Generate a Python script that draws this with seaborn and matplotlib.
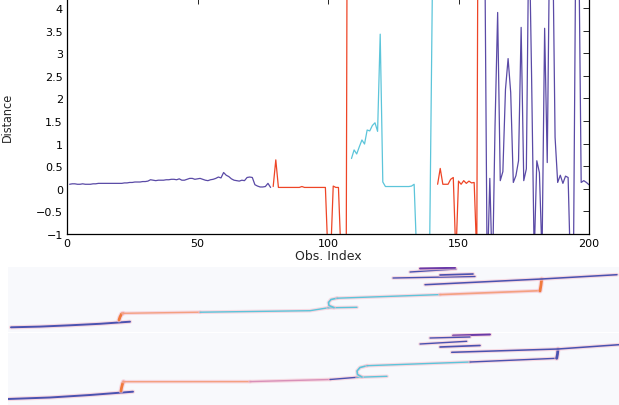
import numpy as np
import matplotlib
matplotlib.use("Agg")
import matplotlib.pyplot as plt
import seaborn as sns

# Distance per observation, one list per cluster segment

purple1_obs = list(range(1, 79))
purple1_dist = [0.10, 0.11, 0.11, 0.10, 0.10, 0.11, 0.10, 0.10, 0.10, 0.11,
                0.11, 0.12, 0.12, 0.12, 0.12, 0.12, 0.12, 0.12, 0.12, 0.12,
                0.12, 0.13, 0.13, 0.14, 0.14, 0.15, 0.15, 0.15, 0.16, 0.16,
                0.17, 0.20, 0.19, 0.18, 0.19, 0.19, 0.19, 0.20, 0.20, 0.21,
                0.21, 0.20, 0.22, 0.19, 0.19, 0.21, 0.23, 0.23, 0.21, 0.22,
                0.23, 0.21, 0.19, 0.18, 0.20, 0.21, 0.23, 0.26, 0.24, 0.36,
                0.30, 0.27, 0.22, 0.19, 0.18, 0.17, 0.19, 0.18, 0.25, 0.26,
                0.25, 0.09, 0.06, 0.04, 0.04, 0.05, 0.12, 0.03]

red1_obs = list(range(79, 109))
red1_dist = [0.05, 0.64, 0.03, 0.03, 0.03, 0.03, 0.03, 0.03, 0.03, 0.03,
             0.03, 0.05, 0.03, 0.03, 0.03, 0.03, 0.03, 0.03, 0.03, 0.03,
             0.03, -1.5, -1.5, 0.06, 0.03, 0.03, -1.5, -1.5, -1.2, 20.0]

cyan_obs = list(range(109, 141))
cyan_dist = [0.67, 0.86, 0.77, 0.93, 1.08, 0.99, 1.30, 1.28, 1.40, 1.46,
             1.27, 3.42, 0.15, 0.05, 0.05, 0.05, 0.05, 0.05, 0.05, 0.05,
             0.05, 0.05, 0.05, 0.06, 0.10, -1.5, -1.5, -1.5, -1.5, -1.5,
             -1.0, 4.5]

red2_obs = list(range(142, 159))
red2_dist = [0.10, 0.45, 0.10, 0.10, 0.10, 0.21, 0.25, -1.5, 0.17, 0.10,
             0.18, 0.12, 0.17, 0.13, 0.14, -1.5, 15.0]

purple2_obs = list(range(160, 201))
purple2_dist = [6.0, -2.0, 0.23, -2.0, 1.4, 3.9, 0.18, 0.38, 2.2, 2.88,
                2.13, 0.14, 0.29, 0.62, 3.57, 0.18, 0.44, 6.0, 2.5, -1.5,
                0.62, 0.36, -1.5, 3.55, 0.58, 6.0, 6.0, 1.14, 0.14, 0.30,
                0.12, 0.28, 0.25, -2.0, -2.0, 6.0, 6.0, 0.14, 0.18, 0.14,
                0.09]

y_ticks = [-1, -0.5, 0, 0.5, 1, 1.5, 2, 2.5, 3, 3.5, 4]
x_ticks = [0, 50, 100, 150, 200]

# Trajectory snapshots below the chart (image pixel coordinates)

# upper snapshot
a_start_x, a_start_y = [11, 40, 70, 100, 130], [328.3, 327.6, 326.3, 324.8, 322.7]
a_hook1_x, a_hook1_y = [119, 120, 121.5, 123], [321, 318, 315, 314.3]
a_cross1_x, a_cross1_y = [123, 200], [314.3, 313.2]
a_cross1b_x, a_cross1b_y = [200, 310, 328], [313.2, 311.7, 308.8]
a_tail_x, a_tail_y = [328, 357], [308.8, 308.3]
a_hook2_x, a_hook2_y = [334, 329, 328.5, 331, 337], [308.6, 306.5, 303.5, 300.5, 299.2]
a_cross2_x, a_cross2_y = [337, 440], [299.2, 295.6]
a_cross2b_x, a_cross2b_y = [440, 540], [295.6, 291.7]
a_vert_x, a_vert_y = [540, 541, 541.7], [292, 286, 280]
a_end_x, a_end_y = [425, 541.7, 617], [285.7, 280, 275.7]
a_cl1_x, a_cl1_y = [393, 475], [279, 277.5]
a_cl2_x, a_cl2_y = [410, 456], [273, 270]
a_cl3_x, a_cl3_y = [420, 455], [269.5, 268.8]
a_cl4_x, a_cl4_y = [440, 473], [276, 275]

# lower snapshot
b_start_x, b_start_y = [8, 50, 90, 133], [400, 398.5, 396, 392.7]
b_hook1_x, b_hook1_y = [121, 121.5, 122.5, 123.5], [392, 389, 385, 382.7]
b_cross1_x, b_cross1_y = [123.5, 250], [382.7, 382.6]
b_cross1b_x, b_cross1b_y = [250, 330], [382.6, 380.5]
b_cross1c_x, b_cross1c_y = [330, 357], [380.5, 378.3]
b_tail_x, b_tail_y = [357, 387], [378.3, 377.3]
b_hook2_x, b_hook2_y = [362, 357.5, 357, 360, 367], [378, 375.5, 372, 368.5, 366.7]
b_cross2_x, b_cross2_y = [367, 470], [366.7, 363]
b_cross2b_x, b_cross2b_y = [470, 556.7], [363, 359.3]
b_vert_x, b_vert_y = [556.7, 557.5, 558], [359.3, 355, 350]
b_end_x, b_end_y = [451.7, 558, 619], [353.3, 350, 345.7]
b_cl1_x, b_cl1_y = [420, 466.7], [345, 342.3]
b_cl2_x, b_cl2_y = [440, 480], [348, 346.5]
b_cl3_x, b_cl3_y = [453, 490], [336.5, 335.5]
b_cl4_x, b_cl4_y = [430, 470], [339, 338]

purple = "#5a4aa6"
red = "#ee4526"
cyan = "#5cc5da"
track_blue = "#4a52b0"
track_orange = "#f07a3c"
track_salmon = "#f4a080"
track_pink = "#d890b8"

sns.set_style("white")
plt.rcParams['font.family'] = ['DejaVu Sans']

fig = plt.figure(figsize=(6.19, 4.06), dpi=100)

# Distance chart

ax = fig.add_axes([67/619, 171/406, 522/619, 236/406])
segments = [(purple1_obs, purple1_dist, purple),
            (red1_obs, red1_dist, red),
            (cyan_obs, cyan_dist, cyan),
            (red2_obs, red2_dist, red),
            (purple2_obs, purple2_dist, purple)]
for obs, dist, col in segments:
    sns.lineplot(x=obs, y=dist, color=col, linewidth=0.9, ax=ax)

ax.set_xlim(0, 200)
ax.set_ylim(-1, 4.22)
ax.set_xticks(x_ticks)
ax.set_yticks(y_ticks)
ax.set_yticklabels([f"{v:g}".replace("-", "\u2212") for v in y_ticks])
ax.tick_params(direction="in", top=True, right=True, length=4, width=0.6,
               labelsize=8, pad=3, colors="black")
for s in ax.spines.values():
    s.set_linewidth(0.9)
    s.set_color("black")
ax.set_xlabel("Obs. Index", fontsize=9)
ax.set_ylabel("Distance", fontsize=9, fontstretch="condensed")
ax.xaxis.set_label_coords(0.5, -0.065)
ax.yaxis.set_label_coords(-0.1015, 0.5)

# Trajectory snapshots

ax_a = fig.add_axes([8/619, 73/406, 611/619, 65/406])
ax_b = fig.add_axes([8/619, 0, 611/619, 72/406])
ax_a.set_xlim(8, 619)
ax_a.set_ylim(333, 268)
ax_b.set_xlim(8, 619)
ax_b.set_ylim(406, 334)

paths_a = [(a_start_x, a_start_y, track_blue, 1.4),
           (a_hook1_x, a_hook1_y, track_orange, 2.0),
           (a_cross1_x, a_cross1_y, track_salmon, 1.0),
           (a_cross1b_x, a_cross1b_y, cyan, 1.0),
           (a_tail_x, a_tail_y, cyan, 1.0),
           (a_hook2_x, a_hook2_y, cyan, 1.2),
           (a_cross2_x, a_cross2_y, cyan, 1.0),
           (a_cross2b_x, a_cross2b_y, track_salmon, 1.2),
           (a_vert_x, a_vert_y, track_orange, 2.0),
           (a_end_x, a_end_y, track_blue, 1.1),
           (a_cl1_x, a_cl1_y, track_blue, 1.0),
           (a_cl2_x, a_cl2_y, track_blue, 1.0),
           (a_cl3_x, a_cl3_y, "#6a3aa8", 1.4),
           (a_cl4_x, a_cl4_y, track_blue, 1.2)]

paths_b = [(b_start_x, b_start_y, track_blue, 1.4),
           (b_hook1_x, b_hook1_y, track_orange, 2.0),
           (b_cross1_x, b_cross1_y, track_salmon, 1.0),
           (b_cross1b_x, b_cross1b_y, track_pink, 1.0),
           (b_cross1c_x, b_cross1c_y, track_blue, 1.0),
           (b_tail_x, b_tail_y, cyan, 1.0),
           (b_hook2_x, b_hook2_y, cyan, 1.2),
           (b_cross2_x, b_cross2_y, cyan, 1.0),
           (b_cross2b_x, b_cross2b_y, track_blue, 1.0),
           (b_vert_x, b_vert_y, track_blue, 2.0),
           (b_end_x, b_end_y, track_blue, 1.1),
           (b_cl1_x, b_cl1_y, track_blue, 1.0),
           (b_cl2_x, b_cl2_y, track_blue, 1.2),
           (b_cl3_x, b_cl3_y, "#6a3aa8", 1.4),
           (b_cl4_x, b_cl4_y, track_blue, 1.0)]

for a, paths in [(ax_a, paths_a), (ax_b, paths_b)]:
    a.set_facecolor("#f8f9fc")
    for px, py, col, lw in paths:
        # faint pink halo like the rendered track
        sns.lineplot(x=px, y=py, color="#f5c2d0", linewidth=lw + 1.6, alpha=0.6,
                     sort=False, estimator=None, ax=a)
        sns.lineplot(x=px, y=py, color=col, linewidth=lw, sort=False,
                     estimator=None, ax=a)
    a.set_xticks([])
    a.set_yticks([])
    a.set_xlabel("")
    a.set_ylabel("")
    for s in a.spines.values():
        s.set_visible(False)

fig.savefig("out.png", dpi=100)
